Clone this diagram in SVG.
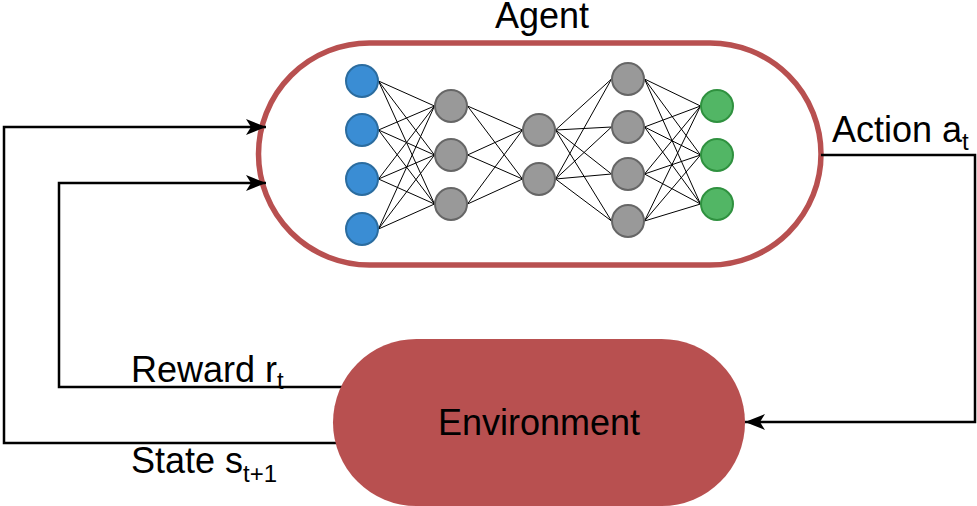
<svg xmlns="http://www.w3.org/2000/svg" width="977" height="506" viewBox="0 0 977 506">
<defs>
<style>
.txt{font-family:"Liberation Sans",Arial,sans-serif;font-size:36px;fill:#000}
.sub{font-size:24px}
.conn{fill:none;stroke:#000;stroke-width:2.5}
.nn{fill:none;stroke:#000;stroke-width:1}
.blue{fill:#3a8dd4;stroke:#2b6c9f;stroke-width:2}
.gray{fill:#999999;stroke:#666666;stroke-width:2}
.green{fill:#52b665;stroke:#2f913f;stroke-width:2}
</style>
<marker id="arr" markerUnits="userSpaceOnUse" markerWidth="20" markerHeight="16" refX="20" refY="8" orient="auto" viewBox="0 0 20 16">
<path d="M0,0 L20,8 L0,16 L5,8 Z" fill="#000"/>
</marker>
</defs>
<rect width="977" height="506" fill="#fff"/>
<g id="agent">
<rect x="258.5" y="43" width="562.5" height="222" rx="111" ry="111" fill="#fff" stroke="#b85050" stroke-width="5.5"/>
<text class="txt" x="542" y="28" text-anchor="middle">Agent</text>
<path class="nn" d="M378.5,81L434.5,106M378.5,81L434.5,155M378.5,81L434.5,204M378.5,130L434.5,106M378.5,130L434.5,155M378.5,130L434.5,204M378.5,179L434.5,106M378.5,179L434.5,155M378.5,179L434.5,204M378.5,229L434.5,106M378.5,229L434.5,155M378.5,229L434.5,204
M467.5,106L522.5,130M467.5,106L522.5,179M467.5,155L522.5,130M467.5,155L522.5,179M467.5,204L522.5,130M467.5,204L522.5,179
M555.5,130L611.5,79M555.5,130L611.5,127M555.5,130L611.5,174M555.5,130L611.5,221M555.5,179L611.5,79M555.5,179L611.5,127M555.5,179L611.5,174M555.5,179L611.5,221
M644.5,79L700.5,106M644.5,79L700.5,155M644.5,79L700.5,204M644.5,127L700.5,106M644.5,127L700.5,155M644.5,127L700.5,204M644.5,174L700.5,106M644.5,174L700.5,155M644.5,174L700.5,204M644.5,221L700.5,106M644.5,221L700.5,155M644.5,221L700.5,204"/>
<circle class="blue" cx="362" cy="81" r="16"/>
<circle class="blue" cx="362" cy="130" r="16"/>
<circle class="blue" cx="362" cy="179" r="16"/>
<circle class="blue" cx="362" cy="229" r="16"/>
<circle class="gray" cx="451" cy="106" r="16"/>
<circle class="gray" cx="451" cy="155" r="16"/>
<circle class="gray" cx="451" cy="204" r="16"/>
<circle class="gray" cx="539" cy="130" r="16"/>
<circle class="gray" cx="539" cy="179" r="16"/>
<circle class="gray" cx="628" cy="79" r="16"/>
<circle class="gray" cx="628" cy="127" r="16"/>
<circle class="gray" cx="628" cy="174" r="16"/>
<circle class="gray" cx="628" cy="221" r="16"/>
<circle class="green" cx="717" cy="106" r="16"/>
<circle class="green" cx="717" cy="155" r="16"/>
<circle class="green" cx="717" cy="204" r="16"/>
</g>
<g id="connectors">
<path class="conn" d="M345,443 H4 V127 H266" marker-end="url(#arr)"/>
<path class="conn" d="M345,387 H59 V183 H266" marker-end="url(#arr)"/>
<path class="conn" d="M821,155 H975 V422 H745" marker-end="url(#arr)"/>
<text class="txt" x="131" y="382">Reward r<tspan class="sub" dy="7">t</tspan></text>
<text class="txt" x="131" y="473">State s<tspan class="sub" dy="9">t+1</tspan></text>
<text class="txt" x="832" y="142">Action a<tspan class="sub" dy="8">t</tspan></text>
</g>
<g id="environment">
<rect x="333" y="339" width="412" height="167" rx="83.5" ry="83.5" fill="#b85050"/>
<text class="txt" x="539" y="435" text-anchor="middle">Environment</text>
</g>
</svg>
